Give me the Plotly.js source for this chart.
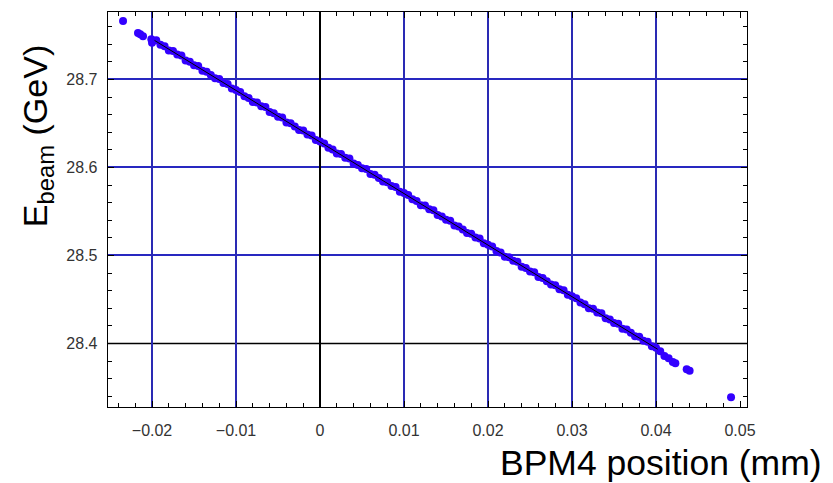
<!DOCTYPE html>
<html>
<head>
<meta charset="utf-8">
<script src="https://cdn.plot.ly/plotly-3.0.1.min.js"></script>
<style>html,body{margin:0;padding:0;background:#fff;}#chart{width:833px;height:483px;}</style>
</head>
<body>
<div id="chart"></div>
<script>
const bpmX = [
  -0.02345, -0.02167, -0.0214, -0.02107, -0.02008, -0.0200,
  -0.0195, -0.0190, -0.0185, -0.0180, -0.0175, -0.0170, -0.0165, -0.0160, -0.0155, -0.0150,
  -0.0145, -0.0140, -0.0135, -0.0130, -0.0125, -0.0120, -0.0115, -0.0110, -0.0105, -0.0100,
  -0.0095, -0.0090, -0.0085, -0.0080, -0.0075, -0.0070, -0.0065, -0.0060, -0.0055, -0.0050,
  -0.0045, -0.0040, -0.0035, -0.0030, -0.0025, -0.0020, -0.0015, -0.0010, -0.0005, 0.0000,
  0.0005, 0.0010, 0.0015, 0.0020, 0.0025, 0.0030, 0.0035, 0.0040, 0.0045, 0.0050,
  0.0055, 0.0060, 0.0065, 0.0070, 0.0075, 0.0080, 0.0085, 0.0090, 0.0095, 0.0100,
  0.0105, 0.0110, 0.0115, 0.0120, 0.0125, 0.0130, 0.0135, 0.0140, 0.0145, 0.0150,
  0.0155, 0.0160, 0.0165, 0.0170, 0.0175, 0.0180, 0.0185, 0.0190, 0.0195, 0.0200,
  0.0205, 0.0210, 0.0215, 0.0220, 0.0225, 0.0230, 0.0235, 0.0240, 0.0245, 0.0250,
  0.0255, 0.0260, 0.0265, 0.0270, 0.0275, 0.0280, 0.0285, 0.0290, 0.0295, 0.0300,
  0.0305, 0.0310, 0.0315, 0.0320, 0.0325, 0.0330, 0.0335, 0.0340, 0.0345, 0.0350,
  0.0355, 0.0360, 0.0365, 0.0370, 0.0375, 0.0380, 0.0385, 0.0390, 0.0395, 0.0400,
  0.0405, 0.0410, 0.0415, 0.0420,
  0.0423, 0.04365, 0.0440, 0.04893
];
const beamE = [
  28.7665, 28.7528, 28.7514, 28.7491, 28.7457, 28.7418,
  28.7445, 28.7396, 28.7377, 28.7330, 28.7325, 28.7283, 28.7273, 28.7217, 28.7201, 28.7163,
  28.7154, 28.7098, 28.7088, 28.7052, 28.7013, 28.7005, 28.6961, 28.6950, 28.6897, 28.6881,
  28.6859, 28.6810, 28.6791, 28.6744, 28.6739, 28.6697, 28.6687, 28.6631, 28.6615, 28.6577,
  28.6568, 28.6512, 28.6502, 28.6466, 28.6427, 28.6419, 28.6375, 28.6364, 28.6311, 28.6295,
  28.6273, 28.6224, 28.6205, 28.6158, 28.6153, 28.6111, 28.6101, 28.6045, 28.6029, 28.5991,
  28.5982, 28.5926, 28.5916, 28.5880, 28.5841, 28.5833, 28.5789, 28.5778, 28.5725, 28.5709,
  28.5687, 28.5638, 28.5619, 28.5572, 28.5567, 28.5525, 28.5515, 28.5459, 28.5443, 28.5405,
  28.5396, 28.5340, 28.5330, 28.5294, 28.5255, 28.5247, 28.5203, 28.5192, 28.5139, 28.5123,
  28.5101, 28.5052, 28.5033, 28.4986, 28.4981, 28.4939, 28.4929, 28.4873, 28.4857, 28.4819,
  28.4810, 28.4754, 28.4744, 28.4708, 28.4669, 28.4661, 28.4617, 28.4606, 28.4553, 28.4537,
  28.4515, 28.4466, 28.4447, 28.4400, 28.4395, 28.4353, 28.4343, 28.4287, 28.4271, 28.4233,
  28.4224, 28.4168, 28.4158, 28.4122, 28.4083, 28.4075, 28.4031, 28.4020, 28.3967, 28.3951,
  28.3912, 28.3858, 28.3833, 28.3789,
  28.3775, 28.3707, 28.3690, 28.3389
];
// linear fit drawn through the data
const fitX = [-0.0197, 0.0402];
const fitE = [28.7444, 28.3934];
// axes origin of the original frame
const originE = 28.4;
// grid positions (no grid line at the 0.05 tick in the original)
const xGridVals = [-0.02, -0.01, 0.01, 0.02, 0.03, 0.04];
const yGridVals = [28.5, 28.6, 28.7];
const xTitle = 'BPM4 position (mm)';
const yTitle = 'E<sub>beam</sub> (GeV)';

const traces = [
  {
    x: bpmX, y: beamE, type: 'scatter', mode: 'markers',
    marker: {color: '#3300ff', size: 8, line: {width: 0}},
    hoverinfo: 'skip', showlegend: false
  },
  {
    x: fitX, y: fitE, type: 'scatter', mode: 'lines',
    line: {color: '#000000', width: 1},
    hoverinfo: 'skip', showlegend: false
  }
];

const tickFont = {family: 'Liberation Sans, Arial, sans-serif', size: 16, color: '#333333'};
const gridCol = '#2a2ab4';
const xRange = [-0.02524, 0.05083];
const yRange = [28.3278, 28.7767];

const layout = {
  width: 833, height: 483,
  margin: {l: 108, r: 86, t: 12, b: 76},
  paper_bgcolor: '#ffffff', plot_bgcolor: '#ffffff',
  showlegend: false,
  xaxis: {
    range: xRange, tick0: 0, dtick: 0.01,
    showgrid: false,
    zeroline: true, zerolinecolor: '#000000', zerolinewidth: 1.5,
    showline: true, linecolor: '#000000', linewidth: 1.3, mirror: 'ticks',
    ticks: 'inside', ticklen: 6, tickcolor: '#000000', tickwidth: 1,
    minor: {dtick: 0.002, ticks: 'inside', ticklen: 4, tickcolor: '#000000', tickwidth: 1, showgrid: false},
    tickfont: tickFont, ticklabelstandoff: 8
  },
  xaxis2: {
    range: xRange, overlaying: 'x', matches: 'x', side: 'bottom',
    tickmode: 'array', tickvals: xGridVals,
    showgrid: true, gridcolor: gridCol, gridwidth: 1.5,
    showticklabels: false, ticks: '', zeroline: false, showline: false
  },
  yaxis: {
    range: yRange, tick0: 28.4, dtick: 0.1, tickformat: '.1f',
    showgrid: false,
    zeroline: false,
    showline: true, linecolor: '#000000', linewidth: 1.3, mirror: 'ticks',
    ticks: 'inside', ticklen: 6, tickcolor: '#000000', tickwidth: 1,
    minor: {dtick: 0.02, ticks: 'inside', ticklen: 4, tickcolor: '#000000', tickwidth: 1, showgrid: false},
    tickfont: tickFont, ticklabelstandoff: 6
  },
  yaxis2: {
    range: yRange, overlaying: 'y', matches: 'y', side: 'left',
    tickmode: 'array', tickvals: yGridVals,
    showgrid: true, gridcolor: '#2828c0', gridwidth: 2,
    showticklabels: false, ticks: '', zeroline: false, showline: false
  },
  shapes: [
    {type: 'line', xref: 'paper', yref: 'y', x0: 0, x1: 1, y0: originE, y1: originE,
     line: {color: '#000000', width: 1.5}, layer: 'below'}
  ],
  annotations: [
    {text: xTitle, xref: 'paper', yref: 'paper', x: 0.8654, y: -0.142,
     xanchor: 'center', yanchor: 'middle', showarrow: false,
     font: {family: 'Liberation Sans, Arial, sans-serif', size: 35.5, color: '#000000'}},
    {text: yTitle, xref: 'paper', yref: 'paper', x: -0.11, y: 0.685, textangle: -90,
     xanchor: 'center', yanchor: 'middle', showarrow: false,
     font: {family: 'Liberation Sans, Arial, sans-serif', size: 34, color: '#000000'}}
  ]
};

// hidden traces on the grid axes so the overlaying axes are drawn
traces.push({x: [xRange[0]], y: [originE], xaxis: 'x2', yaxis: 'y', type: 'scatter', mode: 'markers',
  marker: {opacity: 0}, hoverinfo: 'skip', showlegend: false});
traces.push({x: [xRange[0]], y: [originE], xaxis: 'x', yaxis: 'y2', type: 'scatter', mode: 'markers',
  marker: {opacity: 0}, hoverinfo: 'skip', showlegend: false});

Plotly.newPlot('chart', traces, layout, {staticPlot: true, displayModeBar: false});
</script>
</body>
</html>
